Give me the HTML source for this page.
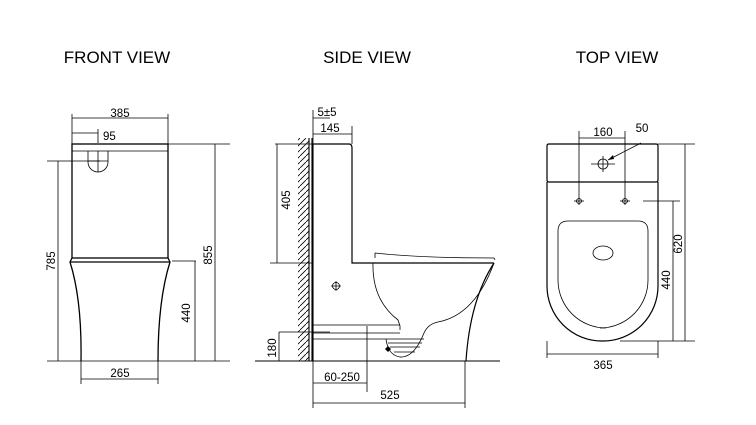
<!DOCTYPE html>
<html><head><meta charset="utf-8"><style>
body{margin:0;background:#fff}
svg{display:block}
text{font-family:"Liberation Sans",sans-serif;fill:#000}
.t{font-size:17px}
.d{font-size:11.5px}
</style></head><body>
<svg width="756" height="425" viewBox="0 0 756 425" xmlns="http://www.w3.org/2000/svg">
<defs><pattern id="h" width="6" height="6" patternUnits="userSpaceOnUse"><path d="M0 6 L6 0" stroke="#000" stroke-width="0.8"/></pattern></defs>
<text class="t" x="117" y="63" text-anchor="middle">FRONT VIEW</text>
<text class="t" x="367" y="63" text-anchor="middle">SIDE VIEW</text>
<text class="t" x="617" y="63" text-anchor="middle">TOP VIEW</text>

<g fill="none" stroke="#000" stroke-width="0.8">
<!-- FRONT -->
<rect x="72" y="144" width="96" height="114" stroke-width="1.3"/>
<line x1="72" y1="151" x2="168" y2="151"/>
<path d="M88 151 V162 A10 10 0 0 0 108 162 V151 M98 151 V172 M88 161 H108"/>
<path d="M70 262 H170 M72 258 L70 262 Q82 300 81 361 M168 258 L170 262 Q158 300 158 361" stroke-width="1.3"/>
<line x1="47" y1="361" x2="230" y2="361"/>
<line x1="72" y1="118" x2="168" y2="118"/><line x1="72" y1="114" x2="72" y2="144"/><line x1="168" y1="114" x2="168" y2="144"/>
<path d="M72 133 H98 M98 129 V143"/>
<path d="M47 161 H100 M58 161 V361"/>
<path d="M172 261 H196 M195 261 V361"/>
<path d="M168 144 H230 M215 144 V361"/>
<path d="M81 361 V384 M158 361 V384 M81 379 H158"/>

<!-- SIDE -->
<rect x="298" y="138" width="11" height="223" fill="url(#h)" stroke="none"/>
<path d="M309 138 V361 M312 138 V361" stroke-width="1.1"/>
<path d="M313 144 H349 Q352 144 352 148 V263 H494" stroke-width="1.2"/>
<path d="M313 144 V361" stroke-width="1.1"/>
<path d="M375 253 V258 M375 253 Q420 258 494 258 L495 260 M352 263 L494 263"/>
<path d="M373 263 Q372 300 398 320 L400 326 V330"/>
<path d="M494 263 Q475 315 438 322 Q428 324 424 333 Q414 358 400 357 Q388 355 386 339"/>
<path d="M494 263 Q470 300 466 361" stroke-width="1.2"/>
<path d="M313 325 H400 M313 333 H400 M313 339 H424 M388 343 H422 M390 347 H420 M394 352 H415"/>
<path d="M331 286 H341 M336 281 V291"/><circle cx="336" cy="286" r="3.5"/>
<path d="M255 361 H500" stroke-width="1"/>
<path d="M313 110 V144 M352 126 V144 M313 118 H330 M313 134 H352"/>
<path d="M275 144 H313 M270 263 H313 M277 144 V263"/>
<path d="M279 332 H330 M279 332 V361"/>
<path d="M367 326 V392 M313 361 V408 M313 383 H367"/>
<path d="M465 361 V408 M313 403 H465"/>

<!-- TOP -->
<path d="M549 144 H656 Q658 144 658 146 V180 Q658 182 656 182 H549 Q547 182 547 180 V146 Q547 144 549 144 Z" stroke-width="1.2"/>
<path d="M547 182 V286 A55 55 0 0 0 602 341 H603 A55 55 0 0 0 658 286 V182" stroke-width="1.2"/>
<path d="M568 221 H638 Q648 221 648 231 V280 A48 48 0 0 1 600 328 H606 A48 48 0 0 1 558 280 V231 Q558 221 568 221 Z"/>
<ellipse cx="603" cy="253" rx="10" ry="7"/>
<circle cx="603" cy="164" r="5"/><path d="M591 164 H615 M603 156 V172"/>
<circle cx="579" cy="201" r="2.5"/><path d="M574 201 H584"/>
<circle cx="625" cy="201" r="2.5"/><path d="M620 201 H630"/>
<path d="M579 131 V205 M625 131 V205 M579 138 H625"/>
<path d="M641 143 L608 160"/>
<path d="M658 144 H695 M620 341 H695 M685 144 V341"/>
<path d="M643 201 H680 M673 201 V341"/>
<path d="M547 341 V358 M658 341 V358 M547 354 H658"/>
</g>
<path d="M608 160 L613 155 L614 159 Z" fill="#000"/>
<path d="M385 349 l3 -3 l3 3 l-3 3 z" fill="#000"/>

<g class="d">
<text x="120" y="117" text-anchor="middle">385</text>
<text x="103" y="140">95</text>
<text x="120" y="377" text-anchor="middle">265</text>
<text transform="translate(55 261) rotate(-90)" text-anchor="middle">785</text>
<text transform="translate(190 313) rotate(-90)" text-anchor="middle">440</text>
<text transform="translate(212 255) rotate(-90)" text-anchor="middle">855</text>
<text x="327" y="116" text-anchor="middle">5±5</text>
<text x="330" y="132" text-anchor="middle">145</text>
<text transform="translate(290 200) rotate(-90)" text-anchor="middle">405</text>
<text transform="translate(276 348) rotate(-90)" text-anchor="middle">180</text>
<text x="342" y="381" text-anchor="middle">60-250</text>
<text x="390" y="399" text-anchor="middle">525</text>
<text x="603" y="136" text-anchor="middle">160</text>
<text x="642" y="132" text-anchor="middle">50</text>
<text transform="translate(682 244) rotate(-90)" text-anchor="middle">620</text>
<text transform="translate(670 280) rotate(-90)" text-anchor="middle">440</text>
<text x="603" y="369" text-anchor="middle">365</text>
</g>
</svg>
</body></html>
